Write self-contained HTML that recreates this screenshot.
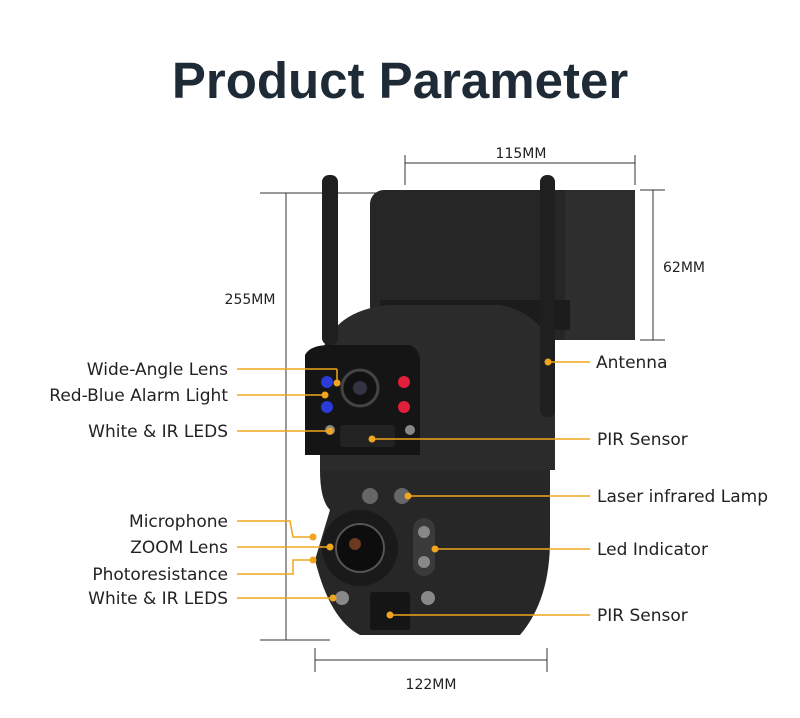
<!DOCTYPE html>
<html><head><meta charset="utf-8"><style>
html,body{margin:0;padding:0;background:#fff;}
svg{display:block;}
text{font-family:"DejaVu Sans","Liberation Sans",sans-serif;}
</style></head><body>
<svg width="800" height="718" viewBox="0 0 800 718" xmlns="http://www.w3.org/2000/svg">
<rect width="800" height="718" fill="#fff"/>
<text x="400" y="98" text-anchor="middle" font-size="51" font-weight="bold" fill="#1e2a35" style="font-family:'Liberation Sans',sans-serif">Product Parameter</text>

<g stroke="#333" stroke-width="1" fill="none">
<line x1="405" y1="163" x2="635" y2="163"/><line x1="405" y1="155" x2="405" y2="185"/><line x1="635" y1="155" x2="635" y2="185"/>
<line x1="286" y1="193" x2="286" y2="640"/><line x1="260" y1="193" x2="400" y2="193"/><line x1="260" y1="640" x2="330" y2="640"/>
<line x1="653" y1="190" x2="653" y2="340"/><line x1="640" y1="190" x2="665" y2="190"/><line x1="640" y1="340" x2="665" y2="340"/>
<line x1="315" y1="660" x2="547" y2="660"/><line x1="315" y1="648" x2="315" y2="672"/><line x1="547" y1="648" x2="547" y2="672"/>
</g>
<g font-size="14" fill="#222">
<text x="521" y="158" text-anchor="middle">115MM</text>
<text x="250" y="304" text-anchor="middle">255MM</text>
<text x="684" y="272" text-anchor="middle">62MM</text>
<text x="431" y="689" text-anchor="middle">122MM</text>
</g>

<g>
<rect x="370" y="190" width="265" height="150" rx="14" fill="#262626"/>
<rect x="565" y="190" width="70" height="150" fill="#2e2e2e"/>
<rect x="380" y="300" width="190" height="30" fill="#1c1c1c"/>
<path d="M320 470 L320 360 Q330 310 390 305 L500 305 Q555 315 555 380 L555 470 Z" fill="#2b2b2b"/>
<path d="M305 355 Q310 345 330 345 L410 345 Q420 350 420 360 L420 455 L305 455 Z" fill="#151515"/>
<rect x="340" y="425" width="55" height="22" rx="3" fill="#222"/>
<circle cx="360" cy="388" r="18" fill="#111" stroke="#444" stroke-width="3"/>
<circle cx="360" cy="388" r="7" fill="#334"/>
<circle cx="327" cy="382" r="6" fill="#2a3bd8"/><circle cx="327" cy="407" r="6" fill="#2a3bd8"/>
<circle cx="404" cy="382" r="6" fill="#e0203a"/><circle cx="404" cy="407" r="6" fill="#e0203a"/>
<circle cx="330" cy="430" r="5" fill="#888"/><circle cx="410" cy="430" r="5" fill="#888"/>
<path d="M320 470 Q320 500 330 510 L315 560 Q330 620 360 635 L520 635 Q550 600 550 540 L550 470 Z" fill="#272727"/>
<circle cx="360" cy="548" r="38" fill="#1a1a1a"/>
<circle cx="360" cy="548" r="24" fill="#0d0d0d" stroke="#555" stroke-width="2"/>
<circle cx="355" cy="544" r="6" fill="#6a3a20"/>
<circle cx="370" cy="496" r="8" fill="#666"/><circle cx="402" cy="496" r="8" fill="#666"/>
<rect x="413" y="518" width="22" height="58" rx="11" fill="#3a3a3a"/>
<circle cx="424" cy="532" r="6" fill="#888"/><circle cx="424" cy="562" r="6" fill="#888"/>
<circle cx="342" cy="598" r="7" fill="#888"/><circle cx="428" cy="598" r="7" fill="#888"/>
<rect x="370" y="592" width="40" height="38" rx="3" fill="#151515"/>
<rect x="322" y="175" width="16" height="170" rx="7" fill="#1f1f1f"/>
<rect x="540" y="175" width="15" height="242" rx="7" fill="#1f1f1f"/>
</g>

<g stroke="#f0a51e" stroke-width="1.5" fill="none">
<line x1="237" y1="369" x2="337" y2="369"/><line x1="337" y1="369" x2="337" y2="383"/>
<line x1="237" y1="395" x2="325" y2="395"/>
<line x1="237" y1="431" x2="330" y2="431"/>
<polyline points="237,521 290,521 293,537 313,537"/>
<line x1="237" y1="547" x2="330" y2="547"/>
<polyline points="237,574 293,574 293,560 313,560"/>
<line x1="237" y1="598" x2="333" y2="598"/>
<line x1="548" y1="362" x2="590" y2="362"/>
<line x1="372" y1="439" x2="590" y2="439"/>
<line x1="408" y1="496" x2="590" y2="496"/>
<line x1="435" y1="549" x2="590" y2="549"/>
<line x1="390" y1="615" x2="590" y2="615"/>
</g>
<g fill="#f0a51e">
<circle cx="337" cy="383" r="3.5"/><circle cx="325" cy="395" r="3.5"/><circle cx="330" cy="431" r="3.5"/>
<circle cx="313" cy="537" r="3.5"/><circle cx="330" cy="547" r="3.5"/><circle cx="313" cy="560" r="3.5"/><circle cx="333" cy="598" r="3.5"/>
<circle cx="548" cy="362" r="3.5"/><circle cx="372" cy="439" r="3.5"/><circle cx="408" cy="496" r="3.5"/><circle cx="435" cy="549" r="3.5"/><circle cx="390" cy="615" r="3.5"/>
</g>
<g font-size="17" fill="#222" text-anchor="end">
<text x="228" y="375">Wide-Angle Lens</text>
<text x="228" y="401">Red-Blue Alarm Light</text>
<text x="228" y="437">White &amp; IR LEDS</text>
<text x="228" y="527">Microphone</text>
<text x="228" y="553">ZOOM Lens</text>
<text x="228" y="580">Photoresistance</text>
<text x="228" y="604">White &amp; IR LEDS</text>
</g>
<g font-size="17" fill="#222">
<text x="596" y="368">Antenna</text>
<text x="597" y="445">PIR Sensor</text>
<text x="597" y="502">Laser infrared Lamp</text>
<text x="597" y="555">Led Indicator</text>
<text x="597" y="621">PIR Sensor</text>
</g>
</svg>
</body></html>
